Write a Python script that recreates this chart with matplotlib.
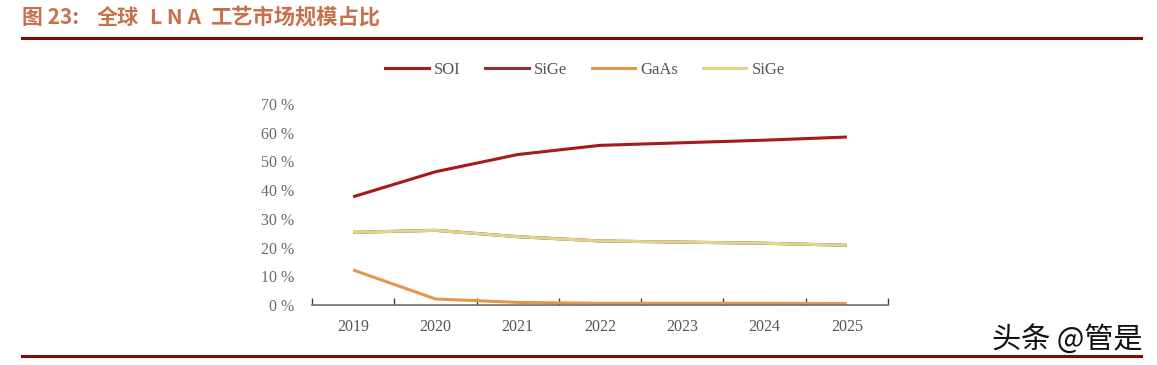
import matplotlib
matplotlib.use("Agg")
import matplotlib.pyplot as plt
from matplotlib.lines import Line2D
import numpy as np

plt.rcParams['font.family'] = ['Noto Sans CJK SC', 'DejaVu Sans']

years = ["2019", "2020", "2021", "2022", "2023", "2024", "2025"]
soi = [37.7, 46.4, 52.4, 55.6, 56.5, 57.4, 58.5]
sige = [25.3, 26.0, 23.8, 22.3, 21.9, 21.5, 20.8]
gaas = [12.2, 2.1, 0.9, 0.6, 0.6, 0.6, 0.5]
sige2 = [25.3, 26.0, 23.8, 22.3, 21.9, 21.5, 20.8]
series_names = ["SOI", "SiGe", "GaAs", "SiGe"]
y_ticks = [0, 10, 20, 30, 40, 50, 60, 70]

colors = ["#A8191C", "#8B3232", "#E4964F", "#E0D48C"]

fig = plt.figure(figsize=(11.57, 3.65), dpi=100)
ax = fig.add_axes([312/1157, (365-305)/365, 576/1157, (305-104)/365])

x = np.arange(len(years))
for vals, c, name in zip([soi, sige, gaas, sige2], colors, series_names):
    ax.plot(x, vals, color=c, lw=2.2, label=name, solid_capstyle='butt')

ax.set_xlim(-0.5, len(years) - 0.5)
ax.set_ylim(0, 70)
for s in ["top", "right", "left"]:
    ax.spines[s].set_visible(False)
ax.spines["bottom"].set_color("#707070")
ax.spines["bottom"].set_linewidth(1.2)

ax.set_xticks(x)
ax.set_xticklabels(years, fontfamily="Liberation Serif", fontsize=11.5, color="#555555")
ax.tick_params(axis='x', which='major', length=0, pad=10)
ax.set_xticks(np.arange(-0.5, len(years)), minor=True)
ax.tick_params(axis='x', which='minor', direction='in', length=5, color="#404040", width=1)

ax.set_yticks(y_ticks)
ax.set_yticklabels([f"{v} %" for v in y_ticks], fontfamily="Liberation Serif", fontsize=11.5, color="#6a6a6a")
ax.tick_params(axis='y', length=0, pad=13)

handles = [Line2D([0], [0], color=c, lw=2.2) for c in colors]
fig.legend(handles, series_names, loc='center', bbox_to_anchor=(585/1157, 1 - 70/365),
           ncol=4, frameon=False, handlelength=2.6, columnspacing=1.5, handletextpad=0.3,
           prop={'family': 'Liberation Serif', 'size': 12}, labelcolor="#555555")

title_color = "#C8704A"
ty = 1 - 17/365
fig.text(22/1157, ty, "图 23:", fontsize=15, color=title_color, fontweight='bold', va='center', ha='left')
fig.text(97/1157, ty, "全球", fontsize=15.2, color=title_color, fontweight='bold', va='center', ha='left')
fig.text(150/1157, ty, "L N A", fontsize=15.2, color=title_color, fontweight='bold', va='center', ha='left')
fig.text(210/1157, ty, "工艺市场规模占比", fontsize=15.3, color=title_color, fontweight='bold', va='center', ha='left')
fig.add_artist(Line2D([22/1157, 1141/1157], [1 - 38/365, 1 - 38/365], color="#7F0A0A", lw=2.2))
fig.add_artist(Line2D([22/1157, 1141/1157], [1 - 356/365, 1 - 356/365], color="#7F0A0A", lw=2.2))
fig.text(1067/1157, 1 - 340/365, "头条 @管是", fontsize=21, color="#111111", va='center', ha='center')

fig.savefig("out.png", dpi=100)
